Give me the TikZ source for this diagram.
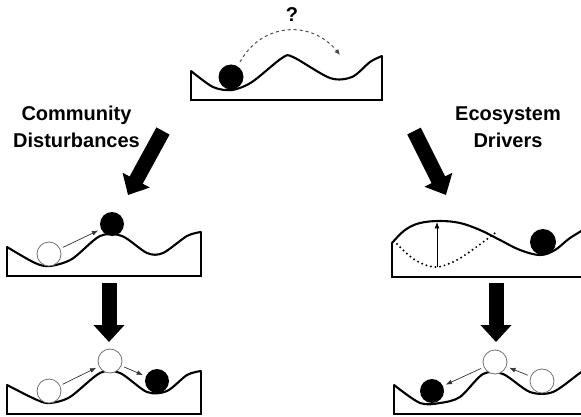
\documentclass[tikz,border=0pt]{standalone}
\usepackage{fontspec}
\setsansfont{Liberation Sans}
\usetikzlibrary{arrows.meta}

\begin{document}
\begin{tikzpicture}[
  x=1pt,y=-1pt,
  font=\sffamily\bfseries,
  ground/.style={line width=2.1pt,line join=round,line cap=round},
  frame/.style={line width=2.1pt,line join=miter},
  ball/.style={circle,inner sep=0pt,minimum size=24pt},
  full ball/.style={ball,fill=black},
  empty ball/.style={ball,draw=black!55,line width=.8pt,fill=white},
  nudge/.style={line width=.7pt,draw=black!80,-{Latex[length=2.2mm,width=1.7mm]},shorten <=3pt,shorten >=3pt},
  jump/.style={line width=1pt,draw=black!70,dash pattern=on 3pt off 3pt,-{Latex[length=2mm,width=1.8mm]}},
  big arrow/.style={line width=15pt,-{Triangle[length=17pt,width=30pt]}},
  label/.style={align=center,font=\sffamily\bfseries\fontsize{20}{27}\selectfont}
]
\useasboundingbox (0,0) rectangle (581,417);

% top: where does the ball go?
\draw[frame] (191,71) -- (191,100) -- (382,100) -- (382,56);
\draw[ground] plot[smooth,tension=.5] coordinates {(191,71) (213,87) (232,90) (252,82) (282,58) (293,57) (330,78) (352,77) (370,62) (382,56)};
\node[full ball,minimum size=25pt] (topball) at (231,77) {};
\coordinate (jumpend) at (340,55);
\draw[jump] (240,62) .. controls (262,22) and (312,20) .. (jumpend);
\node[font=\sffamily\bfseries\fontsize{20}{24}\selectfont] (qmark) at (292,15) {?};

% labels and diagonal arrows
\node[label] (cd) at (76.5,127) {Community\\Disturbances};
\node[label] (ed) at (508,127) {Ecosystem\\Drivers};
\coordinate (cdtail) at (163,131);
\coordinate (cdtip) at (128,195);
\coordinate (edtail) at (414,131);
\coordinate (edtip) at (446,195);
\draw[big arrow] (cdtail) -- (cdtip);
\draw[big arrow] (edtail) -- (edtip);

% left, middle
\draw[frame] (7,247) -- (7,276) -- (201,276) -- (201,232);
\draw[ground] plot[smooth,tension=.5] coordinates {(7,247) (35,263) (50,266) (72,259) (100,236) (122,236) (147,253) (163,253) (187,236) (201,232)};
\node[empty ball] (lmstart) at (49,254) {};
\node[full ball] (lmend) at (112,224) {};
\draw[nudge] (lmstart) -- (lmend);

% left, bottom
\draw[frame] (7,385) -- (7,414) -- (201,414) -- (201,371);
\draw[ground] plot[smooth,tension=.5] coordinates {(7,385) (37,400) (50,403) (70,397) (100,373) (120,373) (147,392) (167,391) (187,375) (201,371)};
\node[empty ball] (lbstart) at (49,391) {};
\node[empty ball] (lbtop) at (110,361) {};
\node[full ball] (lbend) at (157,381) {};
\draw[nudge] (lbstart) -- (lbtop);
\draw[nudge] (lbtop) -- (lbend);

% right, middle
\draw[frame] (392,243) -- (392,277) -- (590,277);
\draw[ground] plot[smooth,tension=.6] coordinates {(392,243) (405,230) (420,223) (440,221) (460,223) (480,230) (500,240) (520,250) (540,255) (555,250) (570,238) (590,226)};
\draw[line width=2.2pt,dash pattern=on 0pt off 4.6pt,line cap=round] plot[smooth,tension=.6] coordinates {(397,244) (415,260) (435,267) (455,261) (475,248) (495,233)};
\node[full ball,minimum size=26pt] (rmball) at (543,242) {};
\coordinate (dipbottom) at (437,267);
\coordinate (dipup) at (437,222);
\draw[line width=.8pt,-{Latex[length=2.2mm,width=1.7mm]}] (dipbottom) -- (dipup);

% right, bottom
\draw[frame] (394,385) -- (394,414) -- (590,414);
\draw[ground] plot[smooth,tension=.5] coordinates {(394,385) (420,403) (440,403) (460,397) (483,374) (503,374) (530,392) (553,392) (580,373) (590,368)};
\node[empty ball] (rbstart) at (542,381) {};
\node[empty ball] (rbtop) at (495,362) {};
\node[full ball] (rbend) at (432,391) {};
\draw[nudge] (rbstart) -- (rbtop);
\draw[nudge] (rbtop) -- (rbend);

% down arrows
\coordinate (ltail) at (109,283);
\coordinate (ltip) at (109,342);
\coordinate (rtail) at (496,283);
\coordinate (rtip) at (496,342);
\draw[big arrow] (ltail) -- (ltip);
\draw[big arrow] (rtail) -- (rtip);
\end{tikzpicture}
\end{document}
